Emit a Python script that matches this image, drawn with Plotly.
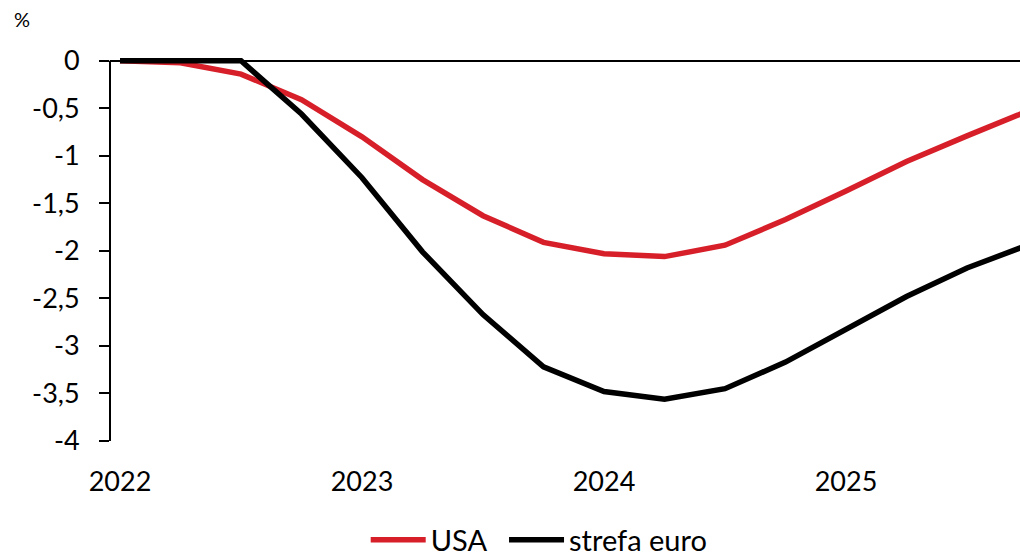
import plotly.graph_objects as go

# Quarterly path, 2022Q1 .. 2025Q4 (index 0 = 2022Q1)
quarters = list(range(16))
usa = [0.0, -0.02, -0.14, -0.41, -0.80, -1.25, -1.63, -1.91, -2.03, -2.06,
       -1.94, -1.67, -1.37, -1.06, -0.79, -0.53]
euro_area = [0.0, 0.0, 0.0, -0.56, -1.23, -2.01, -2.67, -3.22, -3.48, -3.56,
             -3.45, -3.17, -2.83, -2.48, -2.18, -1.94]

year_tick_pos = [0, 4, 8, 12]
year_tick_text = ["2022", "2023", "2024", "2025"]
y_tick_vals = [0, -0.5, -1, -1.5, -2, -2.5, -3, -3.5, -4]
y_tick_text = ["0", "-0,5", "-1", "-1,5", "-2", "-2,5", "-3", "-3,5", "-4"]

RED = "#D71F2A"
FONT = "Lato"

fig = go.Figure()
fig.add_trace(go.Scatter(x=quarters, y=usa, name="USA", mode="lines",
                         line=dict(color=RED, width=5.5), legend="legend"))
fig.add_trace(go.Scatter(x=quarters, y=euro_area, name="strefa euro", mode="lines",
                         line=dict(color="black", width=5.5), legend="legend2"))

# vertical axis line from -4 to 0
fig.add_shape(type="line", xref="paper", yref="y", x0=0, x1=0, y0=-4, y1=0,
              line=dict(color="black", width=2), layer="above")

legend_style = dict(orientation="h", xanchor="left", yanchor="top",
                    yref="container", y=0.078, font=dict(size=29),
                    itemwidth=55, bgcolor="rgba(0,0,0,0)")

fig.update_layout(
    width=1020, height=558,
    margin=dict(l=110, r=0, t=57, b=117, autoexpand=False),
    plot_bgcolor="white", paper_bgcolor="white",
    font=dict(family=FONT, size=27, color="black"),
    showlegend=True,
    legend=dict(legend_style, x=0.281),
    legend2=dict(legend_style, x=0.433),
    annotations=[dict(text="%", xref="paper", yref="paper", x=-0.097, y=1.1,
                      xanchor="center", yanchor="middle", showarrow=False,
                      font=dict(size=20))],
)
fig.update_xaxes(range=[-10 / 60.5, 900 / 60.5], tickvals=year_tick_pos,
                 ticktext=year_tick_text, showgrid=False, showline=False,
                 zeroline=False, ticks="outside", ticklen=17,
                 tickcolor="rgba(0,0,0,0)", automargin=False)
fig.update_yaxes(range=[-4, 0.04], tickvals=y_tick_vals, ticktext=y_tick_text,
                 showgrid=False, showline=False, zeroline=True,
                 zerolinecolor="black", zerolinewidth=2,
                 ticks="outside", ticklen=10, tickwidth=2, tickcolor="black",
                 ticklabelstandoff=14, automargin=False)

fig.write_html("out.html")
